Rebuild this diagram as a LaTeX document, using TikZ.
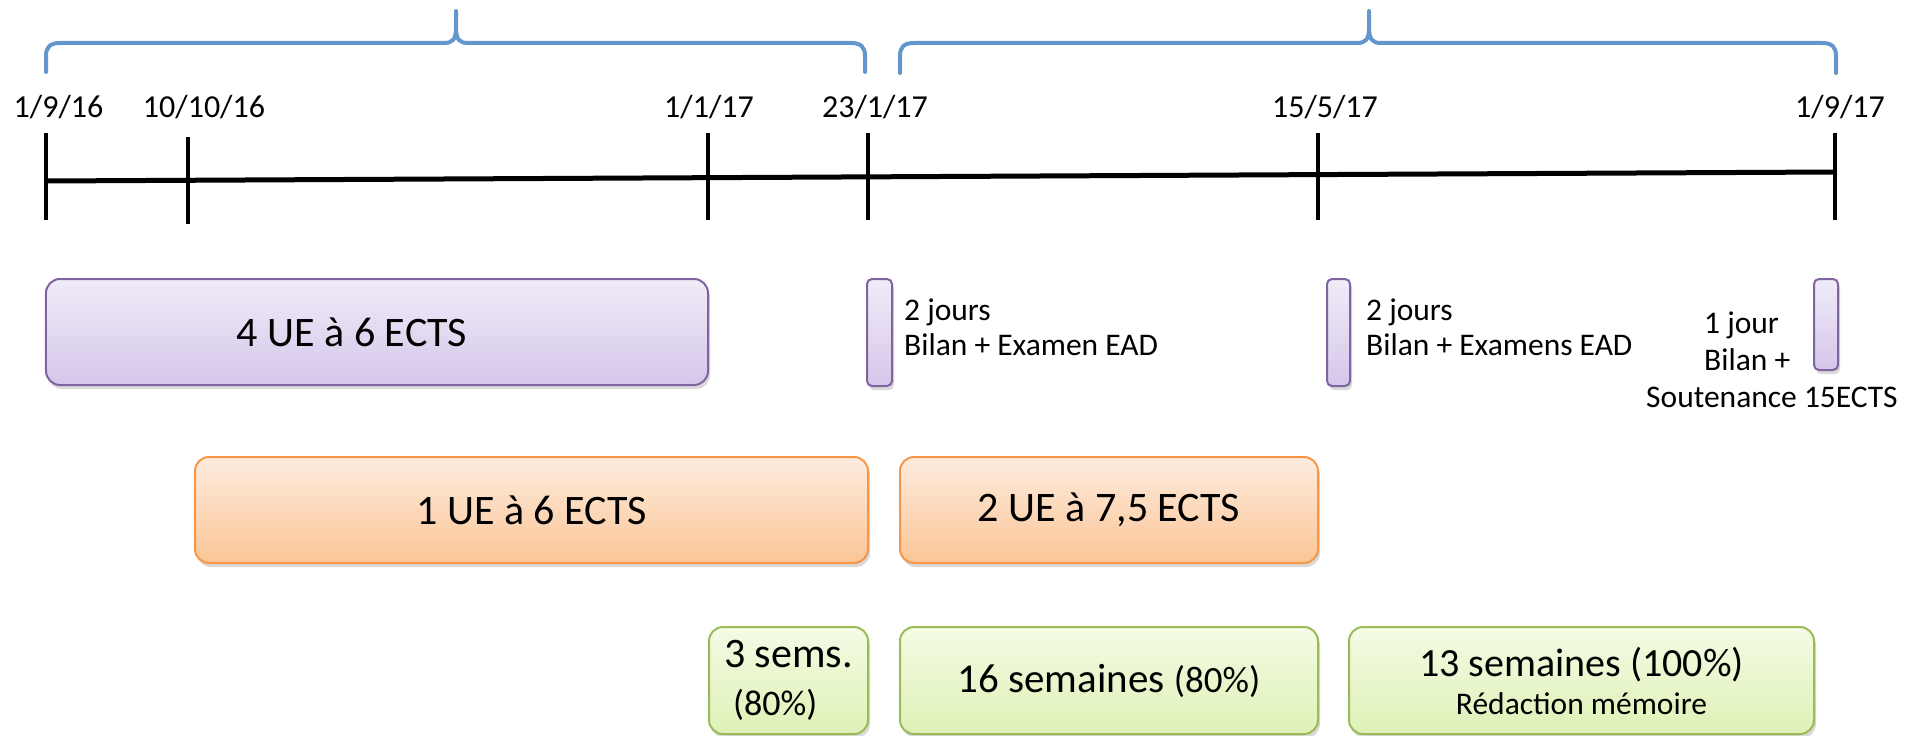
\documentclass[tikz,border=0pt]{standalone}
\usepackage{fontspec}
\setmainfont{Carlito}
\usetikzlibrary{shadows}
\definecolor{braceblue}{RGB}{100,150,205}
\definecolor{pborder}{RGB}{128,100,162}
\definecolor{ptop}{RGB}{240,236,248}
\definecolor{pbot}{RGB}{213,198,234}
\definecolor{oborder}{RGB}{247,150,70}
\definecolor{otop}{RGB}{253,236,222}
\definecolor{obot}{RGB}{251,197,150}
\definecolor{gborder}{RGB}{155,187,89}
\definecolor{gtop}{RGB}{244,251,228}
\definecolor{gbot}{RGB}{222,241,182}
\begin{document}
\begin{tikzpicture}[x=1bp,y=-1bp,
  brace/.style={draw=braceblue, line width=4bp, line join=round, line cap=round},
  axis/.style={line width=5bp},
  tickmark/.style={line width=4bp},
  datelbl/.style={font=\fontsize{32bp}{36bp}\selectfont, inner sep=0, anchor=base},
  box/.style={rounded corners=14bp, line width=2bp, inner sep=0, outer sep=0,
    drop shadow={shadow xshift=2bp, shadow yshift=-4bp, opacity=0.3}},
  pbox/.style={box, draw=pborder, top color=ptop, bottom color=pbot},
  pbar/.style={pbox, rounded corners=5bp},
  obox/.style={box, draw=oborder, top color=otop, bottom color=obot},
  gbox/.style={box, draw=gborder, top color=gtop, bottom color=gbot},
  bigtxt/.style={font=\fontsize{42bp}{48bp}\selectfont},
  lbl/.style={font=\fontsize{31.5bp}{35bp}\selectfont, inner sep=0, align=left, anchor=base west},
]
\useasboundingbox (0,0) rectangle (1921,736);

% braces
\draw[brace] (46,72) -- (46,56) .. controls (46,47) and (50,43) .. (60,43) -- (444,43)
  .. controls (452,43) and (456,40) .. (456,28) -- (456,11) -- (456,28)
  .. controls (456,40) and (460,43) .. (468,43) -- (851,43)
  .. controls (861,43) and (865,47) .. (865,56) -- (865,72);
\draw[brace] (900,73) -- (900,56) .. controls (900,47) and (904,43) .. (914,43) -- (1357,43)
  .. controls (1365,43) and (1369,40) .. (1369,28) -- (1369,11) -- (1369,28)
  .. controls (1369,40) and (1373,43) .. (1381,43) -- (1822,43)
  .. controls (1832,43) and (1836,47) .. (1836,56) -- (1836,73);

% timeline
\coordinate (a0) at (46,181);
\coordinate (a5) at (1835,172);
\draw[axis] (a0) -- (a5);
\foreach \x/\tp/\bt in {46/133/220, 188/137/224, 708/133/220, 868/133/220, 1318/133/220, 1835/133/220}
  \draw[tickmark] (\x,\tp) -- (\x,\bt);

% dates
\node[datelbl] (d1) at (58.5,117) {1/9/16};
\node[datelbl] (d2) at (204,117) {10/10/16};
\node[datelbl] (d3) at (709,117) {1/1/17};
\node[datelbl] (d4) at (875,117) {23/1/17};
\node[datelbl] (d5) at (1325,117) {15/5/17};
\node[datelbl] (d6) at (1840,117) {1/9/17};

% purple row
\node[pbox, minimum width=662bp, minimum height=106bp, bigtxt] (ue4) at (377,332) {4 UE à 6 ECTS\kern50bp};
\node[pbar, minimum width=25bp, minimum height=107bp] (b1) at (879.5,332.5) {};
\node[pbar, minimum width=23bp, minimum height=107bp] (b2) at (1338.5,332.5) {};
\node[pbar, minimum width=24bp, minimum height=91bp] (b3) at (1826,324.5) {};
\node[lbl] (t1) at (904,355) {2 jours\\Bilan + Examen EAD};
\node[lbl] (t2) at (1366,355) {2 jours\\Bilan + Examens EAD};
\node[lbl, font=\fontsize{31.5bp}{37bp}\selectfont] (t3) at (1646,407) {\hspace*{58bp}1 jour\\\hspace*{58bp}Bilan +\\Soutenance 15ECTS};

% orange row
\node[obox, minimum width=673bp, minimum height=106bp, bigtxt] (o1) at (531.5,510) {1 UE à 6 ECTS};
\node[obox, minimum width=418bp, minimum height=106bp, bigtxt] (o2) at (1109,510) {2 UE à 7,5 ECTS};

% green row
\node[gbox, minimum width=159bp, minimum height=107bp, align=left, font=\fontsize{42bp}{48bp}\selectfont] (g1) at (788.5,680.5)
  {3 sems.\\\hspace*{9bp}{\fontsize{36bp}{48bp}\selectfont(80\%)}};
\node[gbox, minimum width=418bp, minimum height=107bp, font=\fontsize{41bp}{48bp}\selectfont] (g2) at (1109,680.5)
  {16 semaines {\fontsize{37bp}{48bp}\selectfont(80\%)}};
\node[gbox, minimum width=465bp, minimum height=107bp, align=center, font=\fontsize{40bp}{38bp}\selectfont] (g3) at (1581.5,680.5)
  {13 semaines (100\%)\\{\fontsize{31.5bp}{38bp}\selectfont Rédaction mémoire}};
\end{tikzpicture}
\end{document}
